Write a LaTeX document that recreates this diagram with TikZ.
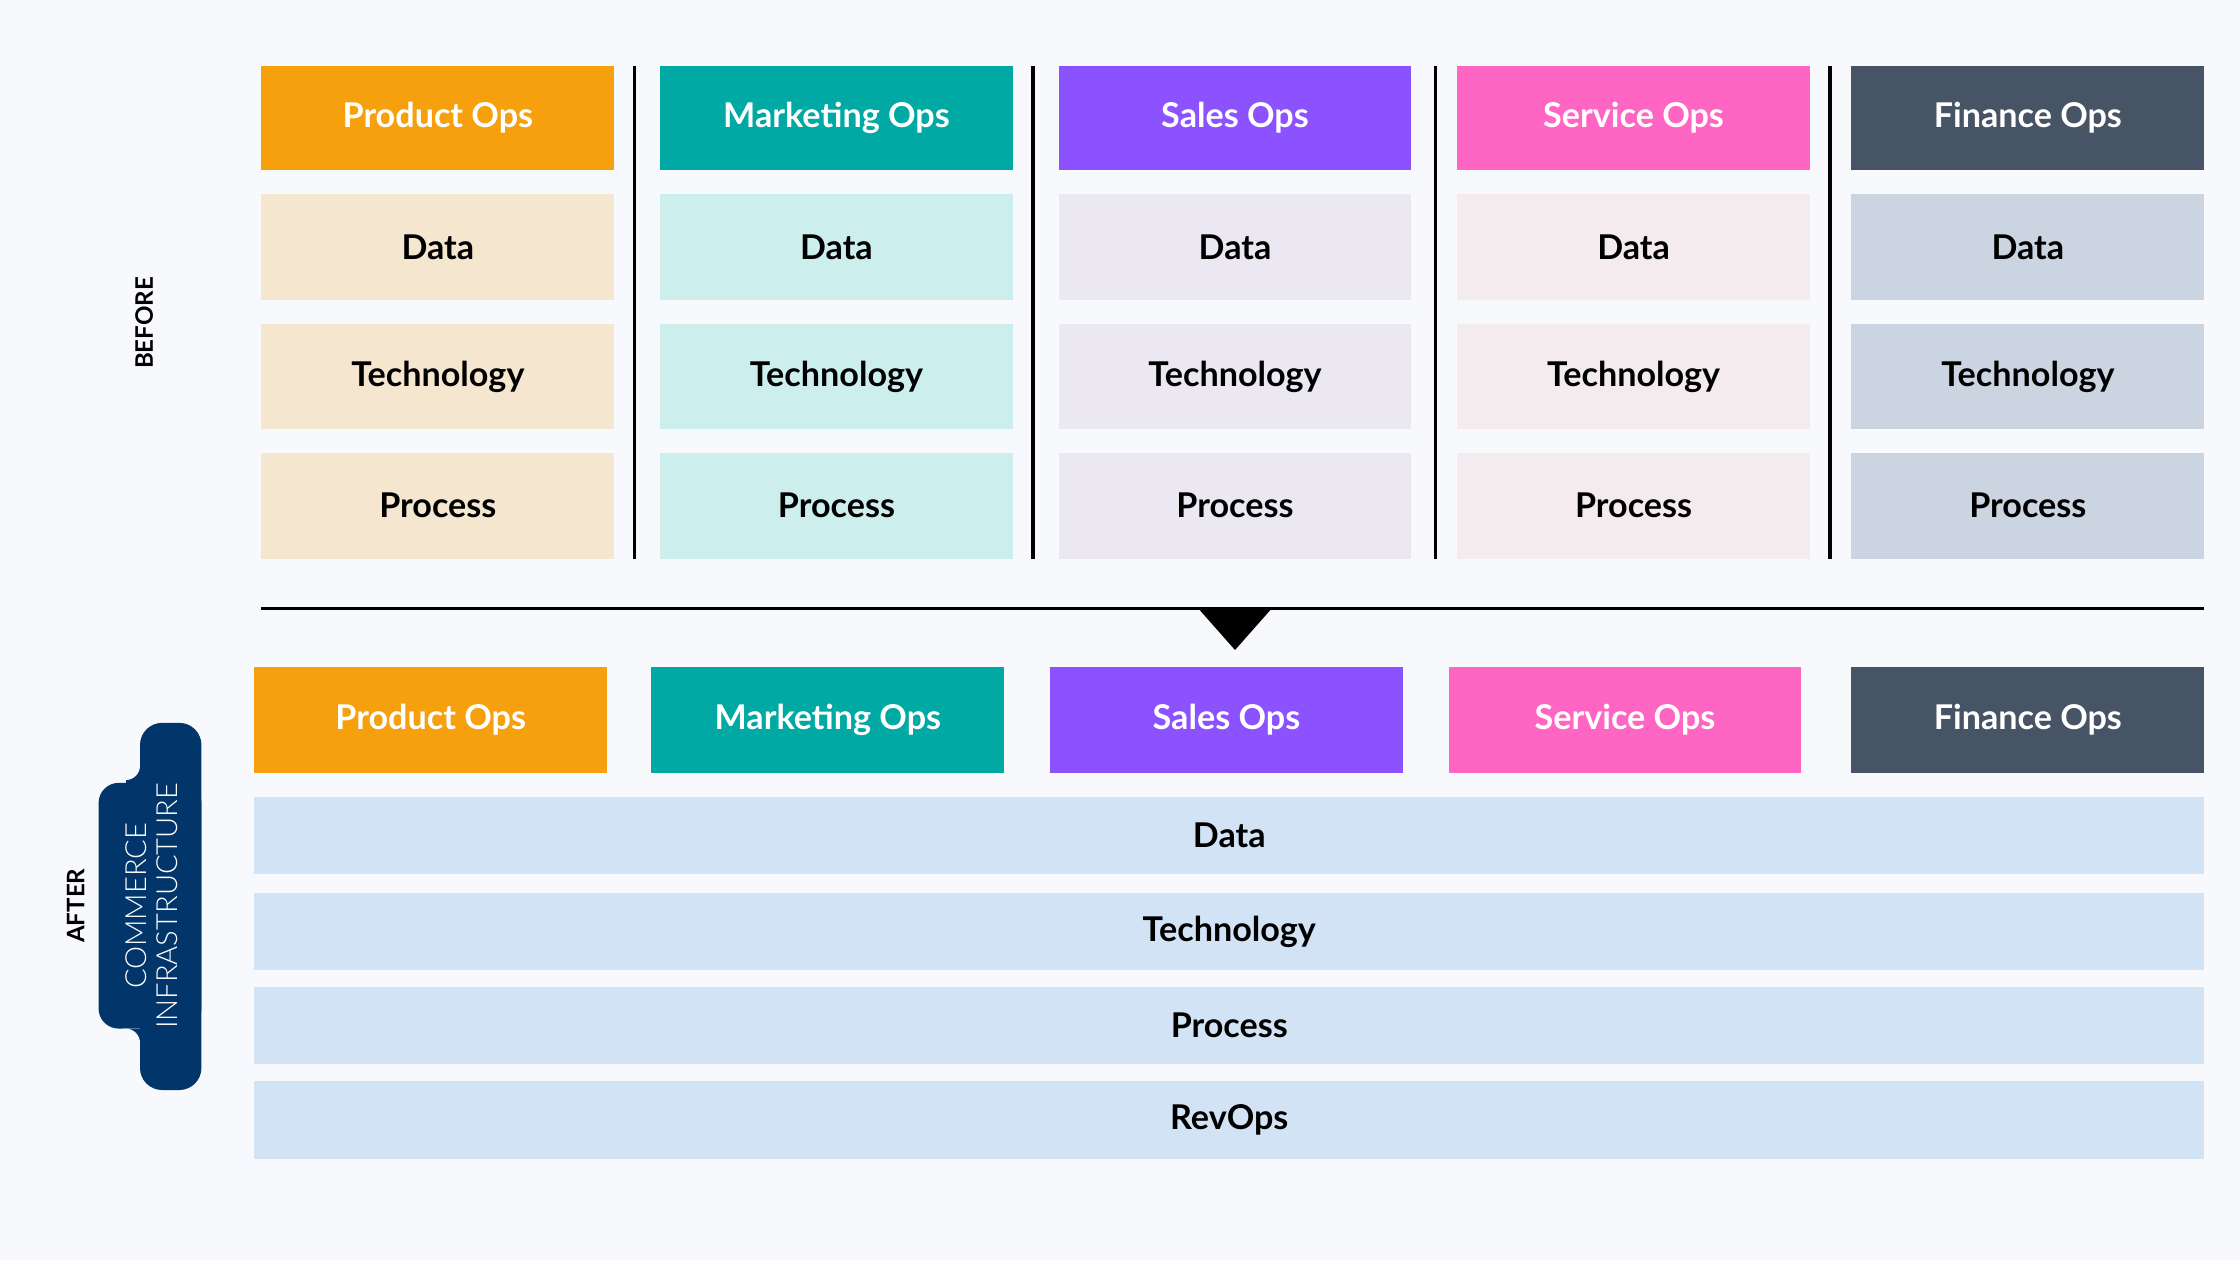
\documentclass[tikz,border=0pt]{standalone}
\usepackage{fontspec}
\setmainfont{Lato}
\newfontfamily\light{Lato Light}
\definecolor{bg}{HTML}{F7F9FC}
\definecolor{cA}{HTML}{F5A00C}\definecolor{lA}{HTML}{F5E6CF}
\definecolor{cB}{HTML}{00A9A3}\definecolor{lB}{HTML}{CCEFEE}
\definecolor{cC}{HTML}{8C52FF}\definecolor{lC}{HTML}{ECE8F2}
\definecolor{cD}{HTML}{FF66C4}\definecolor{lD}{HTML}{F3EBEE}
\definecolor{cE}{HTML}{465466}\definecolor{lE}{HTML}{CBD5E1}
\definecolor{bar}{HTML}{D2E3F5}
\definecolor{navy}{HTML}{02366A}
\begin{document}
\begin{tikzpicture}[x=0.05cm,y=-0.05cm,
  hdr/.style={font=\fontsize{34}{40}\selectfont\bfseries,text=white},
  cell/.style={font=\fontsize{34}{40}\selectfont\bfseries,text=black}]
\fill[bg] (0,0) rectangle (1568,882);
\useasboundingbox (0,0) rectangle (1568,882);
% before
\foreach \x/\c/\l/\t [count=\i] in {183/cA/lA/Product Ops,462/cB/lB/Marketing Ops,741/cC/lC/Sales Ops,1020/cD/lD/Service Ops,1296/cE/lE/Finance Ops}{
  \fill[\c] (\x,46) rectangle +(247,73);
  \node[hdr] (bh\i) at (\x+123.5,82.5) {\t};
  \fill[\l] (\x,136) rectangle +(247,74);
  \node[cell] (bd\i) at (\x+123.5,173) {Data};
  \fill[\l] (\x,227) rectangle +(247,73);
  \node[cell] (bt\i) at (\x+123.5,263.5) {Technology};
  \fill[\l] (\x,317) rectangle +(247,74);
  \node[cell] (bp\i) at (\x+123.5,354) {Process};
}
\foreach \x in {444,723,1005,1281}{\draw[line width=1.2mm] (\x,46) -- (\x,391);}
\draw[line width=1.2mm] (183,426) -- (1543,426);
\fill (838,425) -- (891,425) -- (864.5,455) -- cycle;
\node[font=\fontsize{24}{28}\selectfont\bfseries,rotate=90] (before) at (101,226) {BEFORE};
% after
\foreach \x/\c/\t [count=\i] in {178/cA/Product Ops,456/cB/Marketing Ops,735/cC/Sales Ops,1014/cD/Service Ops,1296/cE/Finance Ops}{
  \fill[\c] (\x,467) rectangle +(247,74);
  \node[hdr] (ah\i) at (\x+123.5,504) {\t};
}
\foreach \y/\t [count=\i] in {558/Data,625/Technology,691/Process,757/RevOps}{
  \fill[bar] (178,\y) rectangle (1543,\y+54);
  \node[cell] (ar\i) at (860.5,\y+27) {\t};
}
\node[font=\fontsize{24}{28}\selectfont\bfseries,rotate=90] (after) at (53,634) {AFTER};
\fill[navy,rounded corners=22] (98,506) rectangle (141,763);
\fill[navy,rounded corners=20] (69,548) rectangle (141,720);
\fill[navy] (88,536) rectangle (98,548);
\fill[navy] (88,720) rectangle (98,730);
\fill[bg] (88,536) circle (10);
\fill[bg] (88,730) circle (10);
\node[font=\fontsize{29}{31}\selectfont\light,text=white,rotate=90,align=center] (ci) at (106,634) {COMMERCE\\INFRASTRUCTURE};
\end{tikzpicture}
\end{document}
